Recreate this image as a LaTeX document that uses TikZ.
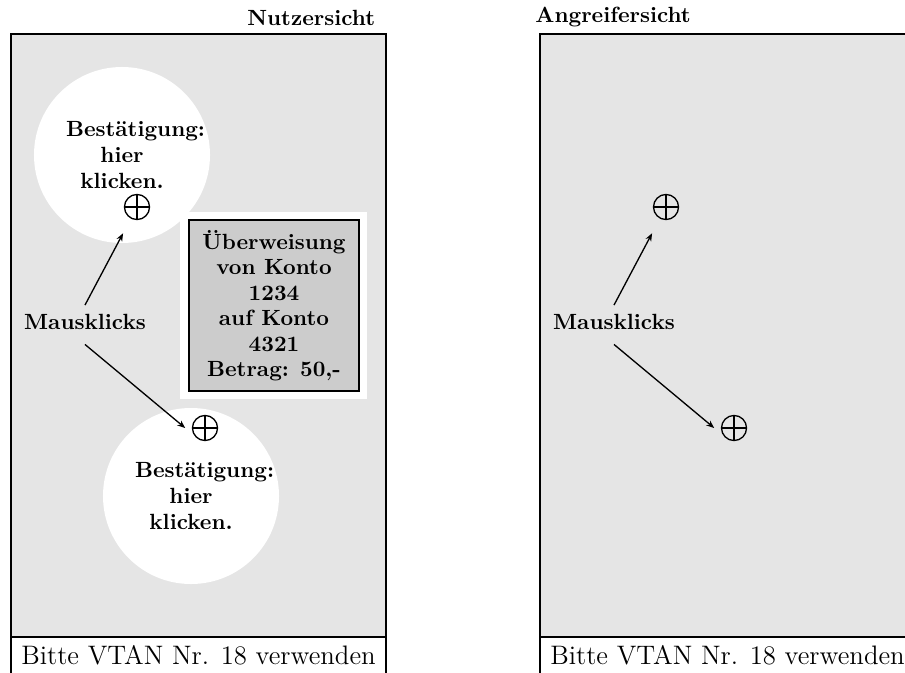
\documentclass[tikz,border=0pt]{standalone}
\usetikzlibrary{arrows.meta}
\definecolor{panelgray}{HTML}{E5E5E5}
\definecolor{boxgray}{HTML}{CCCCCC}
\tikzset{
  panel/.style={fill=panelgray, draw=black, line width=1pt},
  footer/.style={fill=white, draw=black, line width=1pt},
  hdr/.style={font=\bfseries, inner sep=0pt},
  lbl/.style={font=\bfseries, inner sep=0pt},
  foot/.style={font=\fontsize{12.15}{14}\selectfont, inner sep=0pt},
  clickarea/.style={circle, fill=white, minimum size=80pt, inner sep=0pt,
    text width=50.9pt, align=center, font=\fontsize{10}{11.8}\selectfont\bfseries},
  cross/.style={circle, draw, line width=0.6pt, minimum size=11.4pt, inner sep=0pt,
    path picture={\draw[line width=0.6pt]
      (path picture bounding box.north) -- (path picture bounding box.south)
      (path picture bounding box.west) -- (path picture bounding box.east);}},
  arr/.style={-{Stealth[length=3.6pt,width=2.8pt]}, line width=0.6pt},
  outerwhite/.style={fill=white, minimum width=85pt, minimum height=85pt, inner sep=0pt},
  transfer/.style={fill=boxgray, draw=black, line width=0.6pt, minimum width=77.3pt,
    minimum height=77.7pt, inner sep=0pt, align=center,
    font=\fontsize{10}{11.6}\selectfont\bfseries},
}
\begin{document}
\begin{tikzpicture}[x=0.4545pt, y=-0.4545pt]
\useasboundingbox (0,0) rectangle (905,672);
\clip (0,0) rectangle (905,672);

% ---------- left panel: Nutzersicht ----------
\draw[panel] (11,34) rectangle (386,690);
\draw[footer] (11,637) rectangle (386,690);
\node[hdr, anchor=base east] (h1) at (375.5,26) {Nutzersicht};
\node[foot] (f1) at (198.5,655) {Bitte VTAN Nr. 18 verwenden};

\node[clickarea] (k1) at (122,155) {Bestätigung:\\ hier\\ klicken.};
\node[clickarea] (k2) at (191,496) {Bestätigung:\\ hier\\ klicken.};

\node[outerwhite] (w1) at (273.5,305.5) {};
\node[transfer] (t1) at (274,305.5) {Überweisung\\ von Konto\\ 1234\\ auf Konto\\ 4321\\ Betrag: 50,-};

\node[cross] (c1) at (137,207) {};
\node[cross] (c2) at (205,428) {};
\node[lbl] (m1) at (85,322) {Mausklicks};
\draw[arr, shorten >=7.5pt] ([yshift=4pt]m1.north) -- (c1);
\draw[arr] ([yshift=-6.5pt]m1.south) -- ([xshift=-3pt]c2.west);

% ---------- right panel: Angreifersicht ----------
\begin{scope}[shift={(529,0)}]
\draw[panel] (11,34) rectangle (386,690);
\draw[footer] (11,637) rectangle (386,690);
\node[foot] (f2) at (198.5,655) {Bitte VTAN Nr. 18 verwenden};
\node[cross] (c3) at (137,207) {};
\node[cross] (c4) at (205,428) {};
\node[lbl] (m2) at (85,322) {Mausklicks};
\draw[arr, shorten >=7.5pt] ([yshift=4pt]m2.north) -- (c3);
\draw[arr] ([yshift=-6.5pt]m2.south) -- ([xshift=-3pt]c4.west);
\end{scope}
\node[hdr, anchor=base west] (h2) at (535,23) {Angreifersicht};
\end{tikzpicture}
\end{document}
